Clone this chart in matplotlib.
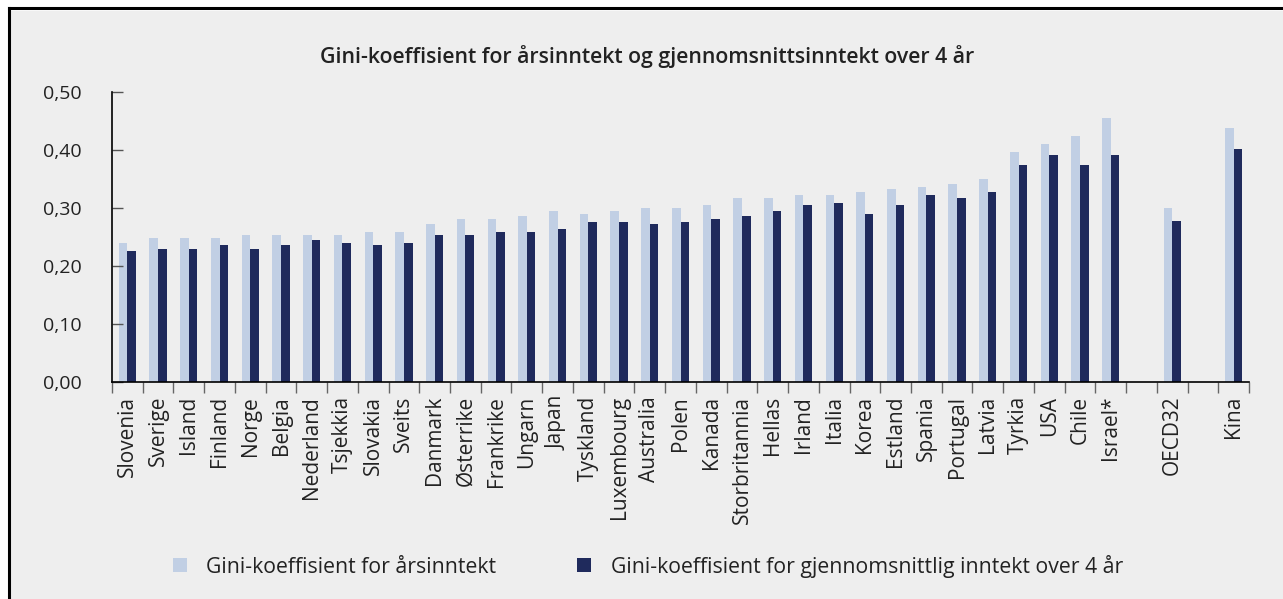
import matplotlib
matplotlib.use('Agg')
import matplotlib.pyplot as plt
from matplotlib.patches import Patch
from matplotlib.lines import Line2D
from matplotlib.ticker import FuncFormatter, FixedLocator
import numpy as np

plt.rcParams['font.family'] = ['Open Sans', 'DejaVu Sans']

# empty strings are the blank slots between the groups
countries = ['Slovenia', 'Sverige', 'Island', 'Finland', 'Norge', 'Belgia',
             'Nederland', 'Tsjekkia', 'Slovakia', 'Sveits', 'Danmark',
             'Østerrike', 'Frankrike', 'Ungarn', 'Japan', 'Tyskland',
             'Luxembourg', 'Australia', 'Polen', 'Kanada', 'Storbritannia',
             'Hellas', 'Irland', 'Italia', 'Korea', 'Estland', 'Spania',
             'Portugal', 'Latvia', 'Tyrkia', 'USA', 'Chile', 'Israel*',
             '', 'OECD32', '', 'Kina']
gini_annual = [0.240, 0.249, 0.249, 0.249, 0.253, 0.253, 0.253, 0.253, 0.258,
               0.258, 0.272, 0.281, 0.281, 0.286, 0.295, 0.290, 0.295, 0.300,
               0.300, 0.305, 0.318, 0.318, 0.322, 0.322, 0.328, 0.332, 0.336,
               0.341, 0.350, 0.397, 0.410, 0.424, 0.456,
               np.nan, 0.300, np.nan, 0.438]
gini_4yr = [0.226, 0.230, 0.230, 0.236, 0.230, 0.236, 0.244, 0.240, 0.236,
            0.240, 0.253, 0.253, 0.258, 0.258, 0.263, 0.276, 0.276, 0.272,
            0.276, 0.281, 0.286, 0.295, 0.305, 0.309, 0.290, 0.305, 0.322,
            0.318, 0.327, 0.374, 0.392, 0.374, 0.392,
            np.nan, 0.277, np.nan, 0.401]
yticks = [0.0, 0.1, 0.2, 0.3, 0.4, 0.5]

title = 'Gini-koeffisient for årsinntekt og gjennomsnittsinntekt over 4 år'
label_annual = 'Gini-koeffisient for årsinntekt'
label_4yr = 'Gini-koeffisient for gjennomsnittlig inntekt over 4 år'

light = '#c1cfe4'
dark = '#1f2a5c'
bg = '#eeeeee'

fig = plt.figure(figsize=(12.83, 5.99), dpi=100, facecolor='white')

# grey panel with a black top/left frame line
fig.patches.append(plt.Rectangle((0.0068, -0.1), 1.2, 1.0866 - 0.005,
                                 transform=fig.transFigure, facecolor=bg,
                                 edgecolor='none', zorder=-2))
fig.lines.append(Line2D([0.0068, 0.0068], [0.0, 0.9866], transform=fig.transFigure,
                        color='black', lw=2.2))
fig.lines.append(Line2D([0.0068, 1.0], [0.9866, 0.9866], transform=fig.transFigure,
                        color='black', lw=2.2))

ax = fig.add_axes([0.0873, 0.3623, 0.9735 - 0.0873, 0.8464 - 0.3623])
ax.set_facecolor(bg)

x = np.arange(len(countries))
w = 0.28
ax.bar(x - w / 2, gini_annual, w, color=light, label=label_annual)
ax.bar(x + w / 2, gini_4yr, w, color=dark, label=label_4yr)

ax.set_xlim(-0.5, len(countries) - 0.5)
ax.set_ylim(0, 0.5)
ax.set_yticks(yticks)
ax.yaxis.set_major_formatter(FuncFormatter(lambda v, p: f'{v:.2f}'.replace('.', ',')))
ax.tick_params(axis='y', direction='in', length=8, width=1, color='#555555',
               labelsize=14, labelcolor='#222222', pad=22)

ax.set_xticks(x)
ax.set_xticklabels(countries, rotation=90)
ax.xaxis.set_minor_locator(FixedLocator(np.arange(len(countries) + 1) - 0.5))
ax.tick_params(axis='x', which='major', length=0, labelsize=15,
               labelcolor='#222222', pad=10)
ax.tick_params(axis='x', which='minor', length=8, width=1, color='#666666')

for s in ['top', 'right']:
    ax.spines[s].set_visible(False)
ax.spines['left'].set_linewidth(1.2)
ax.spines['bottom'].set_linewidth(1.2)

fig.text(0.504, 0.905, title, ha='center', va='center', fontsize=15.3,
         fontweight='semibold', color='#222222')

handles = [Patch(facecolor=light, label=label_annual),
           Patch(facecolor=dark, label=label_4yr)]
fig.legend(handles=handles, loc='center', bbox_to_anchor=(0.505, 0.055), ncol=2,
           frameon=False, fontsize=15.3, handlelength=0.67, handleheight=0.67,
           handletextpad=0.9, columnspacing=3.8, labelcolor='#222222')

fig.savefig('out.png', dpi=100, facecolor='white')
